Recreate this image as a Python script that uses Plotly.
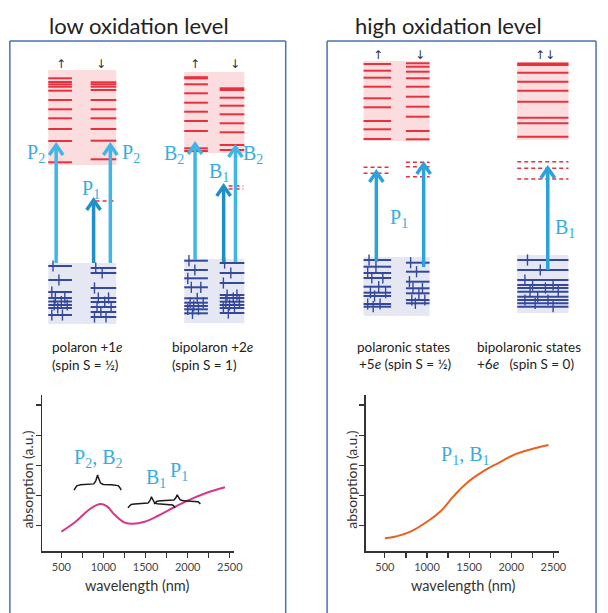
import numpy as np
import plotly.graph_objects as go

W, H = 608, 613

# ---------------- absorption spectra (bottom panels) ----------------
LOW_WL = [500, 668, 824, 960, 1038, 1136, 1253, 1350, 1487, 1643, 1838, 2032, 2227, 2442]
LOW_ABS = [0.80, 1.13, 1.52, 1.72, 1.65, 1.35, 1.10, 1.06, 1.13, 1.32, 1.61, 1.87, 2.09, 2.27]
HIGH_WL = [500, 629, 804, 999, 1155, 1311, 1466, 1661, 1857, 2051, 2246, 2442]
HIGH_ABS = [0.58, 0.64, 0.80, 1.13, 1.46, 1.96, 2.40, 2.79, 3.09, 3.37, 3.54, 3.67]
WL_TICKS = [500, 750, 1000, 1250, 1500, 1750, 2000, 2250, 2500]
WL_LABELS = ["500", "", "1000", "", "1500", "", "2000", "", "2500"]
ABS_TICKS = [1, 2, 3, 4, 5]

# braces on the low-oxidation spectrum: start nm, end nm, end level, tip level
LOW_BRACES = [(650, 1210, 2.18, 2.68), (1290, 1850, 1.59, 1.96), (1600, 2150, 1.72, 2.02)]
LOW_LABELS = [("P<sub>2</sub>, B<sub>2</sub>", 935, 3.23), ("B<sub>1</sub>", 1620, 2.57),
              ("P<sub>1</sub>", 1896, 2.79)]
HIGH_LABELS = [("P<sub>1</sub>, B<sub>1</sub>", 1446, 3.34)]

# ---------------- energy level schematics (canvas units, y down) ----------------
BLOCKS = [
    dict(box=(49, 118), red=(70, 165), blue=(263, 324),
         cols=[dict(x=(49, 73), red=[78.3, 82, 84.3, 86.7, 90.7, 100, 109.3, 118.3, 129, 141, 162.3],
                    blue=[266, 280, 292, 298, 301.5, 305, 308, 315]),
               dict(x=(92, 118), red=[82.3, 84.3, 86.7, 90, 100, 109.3, 118.3, 129, 140.7, 159.3],
                    blue=[268, 273, 288, 298, 302, 307, 312, 317])],
         dashes=[((97, 117), [201])]),
    dict(box=(187, 248), red=(72, 153), blue=(259, 323),
         cols=[dict(x=(187, 211), red=[77.2, 78.4, 84.3, 93.3, 102.7, 111.7, 121, 131, 148.3, 151],
                    blue=[260.7, 270, 278.3, 287.3, 298.3, 302.7, 306, 309.3, 313.3]),
               dict(x=(223, 248), red=[88.3, 90, 97.7, 105.7, 114.3, 123.3, 132.3, 145, 150],
                    blue=[263, 273, 283, 295, 298, 301.7, 305, 308, 313])],
         dashes=[((232, 247), [186, 189])]),
    dict(box=(369, 436), red=(61, 141), blue=(257, 316),
         cols=[dict(x=(369, 397), red=[64, 70.7, 77.7, 86.7, 98.3, 107.3, 121, 129.3, 139],
                    blue=[260, 266.7, 273, 278, 286.7, 292.7, 296, 304, 306.7]),
               dict(x=(412, 436), red=[63.3, 66.7, 71.7, 78.3, 86.7, 96.7, 106.7, 116.7, 131, 139.3],
                    blue=[262.7, 271.7, 281.7, 288.3, 293.3, 300, 303.3])],
         dashes=[((369, 397), [167.3, 173.3]), ((412, 436), [162.3, 166.7, 176.7])]),
    dict(box=(525, 577), red=(62, 140), blue=(255, 313),
         cols=[dict(x=(525, 577), red=[63.6, 65.0, 72.7, 81.7, 90.7, 101.7, 117.7, 123.3, 136.7],
                    blue=[260, 270, 280, 285, 288, 291.7, 296.7, 300, 303.3, 306.7])],
         dashes=[((525, 577), [161.7, 168.3, 179])]),
]
SPIN_FRAC = [(0.2,), (0.45,), (0.15,), (0.3, 0.7), (0.55,), (0.25, 0.8), (0.4,), (0.6, 0.15), (0.35,), (0.7,)]

# transitions: x, from level, to level, kind
ARROWS = [(57, 263, 145, "light"), (95, 263, 200, "dark"), (112, 263, 145, "light"),
          (198, 260, 144, "light"), (227, 262, 186, "dark"), (239, 262, 147, "light"),
          (382, 262, 172, "mid"), (430, 267, 164, "mid"), (556, 270, 168, "mid")]
ARROW_COLORS = {"light": "#3fb6e6", "dark": "#1f8fca", "mid": "#2aa2da"}
ARROW_LABELS = [("P<sub>2</sub>", 37, 153), ("P<sub>2</sub>", 133, 153), ("P<sub>1</sub>", 92, 189),
                ("B<sub>2</sub>", 177, 154), ("B<sub>2</sub>", 257, 154), ("B<sub>1</sub>", 222, 172),
                ("P<sub>1</sub>", 405, 218), ("B<sub>1</sub>", 573, 228)]
SPIN_HEADERS = [("↑", 62, 64), ("↓", 103, 64), ("↑", 198, 64), ("↓", 239, 64),
                ("↑", 384, 55), ("↓", 426, 55), ("↑↓", 553, 55)]
CAPTIONS = [("polaron +1<i>e</i>", 51, 347), ("(spin S = ½)", 51, 365),
            ("bipolaron +2<i>e</i>", 173, 347), ("(spin S = 1)", 173, 365),
            ("polaronic states", 360, 347), ("+5<i>e</i> (spin S = ½)", 362, 364),
            ("bipolaronic states", 482, 347), ("+6<i>e</i>   (spin S = 0)", 482, 364)]
TITLES = [("low oxidation level", 141, 25), ("high oxidation level", 455, 25)]

RED = "#e5323c"
PINK = "#fbdcdf"
NAVY = "#34489c"
LAVENDER = "#e5e7f3"
LABEL_BLUE = "#35ade0"
SANS = "Lato, 'Open Sans', sans-serif"
SERIF = "'Liberation Serif', 'DejaVu Serif', serif"

fig = go.Figure()
shapes = []
annotations = []


def seg_trace(segs, color, width, dash=None):
    xs, ys = [], []
    for (x0, x1), y in segs:
        xs += [x0, x1, None]
        ys += [y, y, None]
    return go.Scatter(x=xs, y=ys, mode="lines", xaxis="x3", yaxis="y3", hoverinfo="skip",
                      line=dict(color=color, width=width, dash=dash), showlegend=False)


red_segs, blue_segs, dash_segs = [], [], []
spin_x, spin_y = [], []
for b in BLOCKS:
    shapes.append(dict(type="rect", xref="x3", yref="y3", x0=b["box"][0], x1=b["box"][1],
                       y0=b["red"][0], y1=b["red"][1], fillcolor=PINK, line_width=0, layer="below"))
    shapes.append(dict(type="rect", xref="x3", yref="y3", x0=b["box"][0], x1=b["box"][1],
                       y0=b["blue"][0], y1=b["blue"][1], fillcolor=LAVENDER, line_width=0, layer="below"))
    for c in b["cols"]:
        red_segs += [(c["x"], y) for y in c["red"]]
        blue_segs += [(c["x"], y) for y in c["blue"]]
        for i, y in enumerate(c["blue"]):
            for f in SPIN_FRAC[i % len(SPIN_FRAC)]:
                spin_x.append(c["x"][0] + f * (c["x"][1] - c["x"][0]))
                spin_y.append(y)
    for xr, ys in b["dashes"]:
        dash_segs += [(xr, y) for y in ys]

fig.add_trace(seg_trace(red_segs, RED, 2))
fig.add_trace(seg_trace(dash_segs, RED, 1.6, dash="4px,3px"))
fig.add_trace(seg_trace(blue_segs, NAVY, 2))
fig.add_trace(go.Scatter(x=spin_x, y=spin_y, mode="markers", xaxis="x3", yaxis="y3", hoverinfo="skip",
                         showlegend=False,
                         marker=dict(symbol="line-ns", size=8, line=dict(color=NAVY, width=1.4))))

for x, y0, y1, kind in ARROWS:
    col = ARROW_COLORS[kind]
    fig.add_trace(go.Scatter(x=[x, x, None, x - 7, x, x + 7], y=[y0, y1 + 1, None, y1 + 10, y1, y1 + 10],
                             mode="lines", xaxis="x3", yaxis="y3", hoverinfo="skip", showlegend=False,
                             line=dict(color=col, width=3.5)))

for t, x, y in ARROW_LABELS:
    annotations.append(dict(text=t, x=x, y=y, xref="x3", yref="y3", showarrow=False,
                            font=dict(family=SERIF, size=20, color=LABEL_BLUE)))
for t, x, y in SPIN_HEADERS:
    annotations.append(dict(text=t, x=x, y=y, xref="x3", yref="y3", showarrow=False,
                            font=dict(family="DejaVu Sans", size=12, color="#333")))
for t, x, y in CAPTIONS:
    annotations.append(dict(text=t, x=x, y=y, xref="x3", yref="y3", showarrow=False, xanchor="left",
                            font=dict(family=SANS, size=13.5, color="#222")))
for t, x, y in TITLES:
    annotations.append(dict(text=t, x=x, y=y, xref="x3", yref="y3", showarrow=False,
                            font=dict(family=SANS, size=22, color="#222")))

# ---------------- spectra ----------------
fig.add_trace(go.Scatter(x=LOW_WL, y=LOW_ABS, mode="lines",
                         line=dict(color="#d8368c", width=2, shape="spline", smoothing=1.1),
                         xaxis="x", yaxis="y", showlegend=False))
fig.add_trace(go.Scatter(x=HIGH_WL, y=HIGH_ABS, mode="lines",
                         line=dict(color="#e9601f", width=2, shape="spline", smoothing=1.2),
                         xaxis="x2", yaxis="y2", showlegend=False))


def q(s, beta=18.0):
    return 1.0 / (1.0 + np.exp(-beta * s)) - 0.5


for x0, x1, yb, yt in LOW_BRACES:
    s = np.linspace(0, 1, 60)
    half = 0.35 * (2 * q(s)) + 0.65 * (2 * q(s - 1) + 1)
    xm = 0.5 * (x0 + x1)
    xs = np.concatenate([x0 + s * (xm - x0), xm + s * (x1 - xm)])
    ys = yb + (yt - yb) * np.concatenate([half, half[::-1]])
    fig.add_trace(go.Scatter(x=xs, y=ys, mode="lines", line=dict(color="#1a1a1a", width=1.5),
                             xaxis="x", yaxis="y", showlegend=False, hoverinfo="skip"))

for t, x, y in LOW_LABELS:
    annotations.append(dict(text=t, x=x, y=y, xref="x", yref="y", showarrow=False,
                            font=dict(family=SERIF, size=20, color=LABEL_BLUE)))
for t, x, y in HIGH_LABELS:
    annotations.append(dict(text=t, x=x, y=y, xref="x2", yref="y2", showarrow=False,
                            font=dict(family=SERIF, size=20, color=LABEL_BLUE)))

# axis titles
for cx in (140 / W, 470 / W):
    annotations.append(dict(text="wavelength (nm)", x=cx, y=1 - 585 / H, xref="paper", yref="paper",
                            xanchor="center", yanchor="middle",
                            showarrow=False, font=dict(family=SANS, size=14.5, color="#333")))
for cx in (27 / W, 356 / W):
    annotations.append(dict(text="absorption (a.u.)", x=cx, y=1 - 480 / H, xref="paper", yref="paper",
                            xanchor="center", yanchor="middle",
                            showarrow=False, textangle=-90, font=dict(family=SANS, size=14, color="#333")))

# panel borders
BORDER = "#4a70b5"
for xl, xr in ((10, 290), (332, 605)):
    shapes.append(dict(type="line", xref="paper", yref="paper", x0=xl / W, x1=xl / W, y0=-0.01, y1=1 - 41 / H,
                       line=dict(color=BORDER, width=1.5)))
    shapes.append(dict(type="line", xref="paper", yref="paper", x0=xr / W, x1=xr / W, y0=-0.01, y1=1 - 41 / H,
                       line=dict(color=BORDER, width=1.5)))
    shapes.append(dict(type="line", xref="paper", yref="paper", x0=xl / W, x1=xr / W, y0=1 - 41 / H, y1=1 - 41 / H,
                       line=dict(color=BORDER, width=1.5)))

xax = dict(range=[271, 2555], tickvals=WL_TICKS, ticktext=WL_LABELS, ticks="outside", ticklen=5, tickwidth=1.2,
           tickcolor="#333", showline=True, linecolor="#333", linewidth=1.5, showgrid=False, zeroline=False,
           tickfont=dict(family=SANS, size=11, color="#444"), fixedrange=True)
yax = dict(range=[0.16, 5.33], tickvals=ABS_TICKS, ticktext=[""] * 5, ticks="outside", ticklen=5, tickwidth=1.2,
           tickcolor="#333", showline=True, linecolor="#333", linewidth=1.5, showgrid=False, zeroline=False,
           fixedrange=True)
ydom = [1 - 551 / H, 1 - 395 / H]

fig.update_layout(
    width=W, height=H, autosize=False, margin=dict(l=0, r=0, t=0, b=0),
    paper_bgcolor="white", plot_bgcolor="rgba(0,0,0,0)",
    xaxis=dict(xax, domain=[42.7 / W, 238 / W], anchor="y"),
    yaxis=dict(yax, domain=ydom, anchor="x"),
    xaxis2=dict(xax, domain=[371 / W, 567 / W], anchor="y2", range=[270, 2562]),
    yaxis2=dict(yax, domain=ydom, anchor="x2"),
    xaxis3=dict(domain=[0, 1], range=[0, W], visible=False, anchor="y3", fixedrange=True),
    yaxis3=dict(domain=[0, 1], range=[H, 0], visible=False, anchor="x3", fixedrange=True),
    shapes=shapes, annotations=annotations, showlegend=False, hovermode=False,
)

fig.write_html("out.html", config={"displayModeBar": False, "staticPlot": True},
               post_script="document.body.style.margin='0';document.body.style.overflow='hidden';")
